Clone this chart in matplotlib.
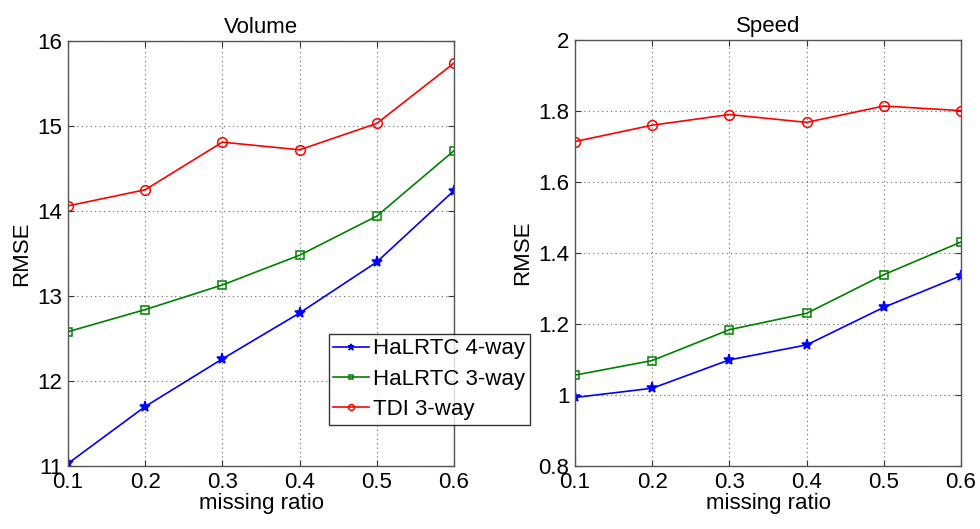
import matplotlib
matplotlib.use("Agg")
import matplotlib.pyplot as plt
from matplotlib.ticker import FuncFormatter

plt.rcParams['font.family'] = ['Liberation Sans', 'DejaVu Sans']

missing_ratio = [0.1, 0.2, 0.3, 0.4, 0.5, 0.6]
series_names = ["HaLRTC 4-way", "HaLRTC 3-way", "TDI 3-way"]

volume_halrtc4 = [11.03, 11.70, 12.26, 12.80, 13.40, 14.24]
volume_halrtc3 = [12.58, 12.84, 13.13, 13.48, 13.94, 14.71]
volume_tdi3 = [14.06, 14.25, 14.81, 14.72, 15.03, 15.74]

speed_halrtc4 = [0.993, 1.019, 1.099, 1.141, 1.247, 1.336]
speed_halrtc3 = [1.056, 1.097, 1.184, 1.230, 1.339, 1.431]
speed_tdi3 = [1.714, 1.760, 1.790, 1.768, 1.814, 1.801]

volume_yticks = [11, 12, 13, 14, 15, 16]
speed_yticks = [0.8, 1.0, 1.2, 1.4, 1.6, 1.8, 2.0]
xticks = [0.1, 0.2, 0.3, 0.4, 0.5, 0.6]

styles = [
    dict(color=(0, 0, 1), marker='*', markersize=8, markerfacecolor=(0, 0, 1)),
    dict(color=(0, 0.5, 0), marker='s', markersize=6, markerfacecolor='none'),
    dict(color=(1, 0, 0), marker='o', markersize=7, markerfacecolor='none'),
]

W, H = 980, 529
fig = plt.figure(figsize=(W / 100, H / 100), dpi=100)
fs = 16


def make_axes(left_px, right_px, top_px, bottom_px):
    return fig.add_axes([left_px / W, 1 - bottom_px / H,
                         (right_px - left_px) / W, (bottom_px - top_px) / H])


ax1 = make_axes(68, 454, 41, 466)
ax2 = make_axes(575, 961, 40, 466)

panels = [
    (ax1, "Volume", [volume_halrtc4, volume_halrtc3, volume_tdi3], volume_yticks),
    (ax2, "Speed", [speed_halrtc4, speed_halrtc3, speed_tdi3], speed_yticks),
]

fmt = FuncFormatter(lambda v, p: f"{v:g}")

for ax, title, data, yt in panels:
    for vals, name, st in zip(data, series_names, styles):
        ax.plot(missing_ratio, vals, linewidth=1.2, markeredgewidth=1.1,
                label=name, **st)
    ax.set_xlim(xticks[0], xticks[-1])
    ax.set_ylim(yt[0], yt[-1])
    ax.set_xticks(xticks)
    ax.set_yticks(yt)
    ax.xaxis.set_major_formatter(fmt)
    ax.yaxis.set_major_formatter(fmt)
    ax.grid(True, linestyle=(0, (1, 3)), color='#666666', linewidth=0.8)
    ax.tick_params(direction='in', length=4, top=True, right=True,
                   labelsize=fs, colors='#333333', labelcolor='black', pad=4)
    for sp in ax.spines.values():
        sp.set_color('#555555')
        sp.set_linewidth(1.0)
    ax.set_title(title, fontsize=fs, pad=6)
    ax.set_xlabel("missing ratio", fontsize=fs, labelpad=0)
    ax.set_ylabel("RMSE", fontsize=fs, labelpad=4)

handles, labels = ax1.get_legend_handles_labels()
leg = fig.legend(handles, labels, loc='upper left',
                 bbox_to_anchor=(329 / W, 1 - 334 / H),
                 fontsize=fs, frameon=True, fancybox=False, markerscale=0.6,
                 handlelength=1.6, handletextpad=0.2, labelspacing=0.42,
                 borderpad=0.2, borderaxespad=0)
leg.get_frame().set_edgecolor('black')
leg.get_frame().set_linewidth(1.0)

fig.savefig("out.png", dpi=100, facecolor='white')
